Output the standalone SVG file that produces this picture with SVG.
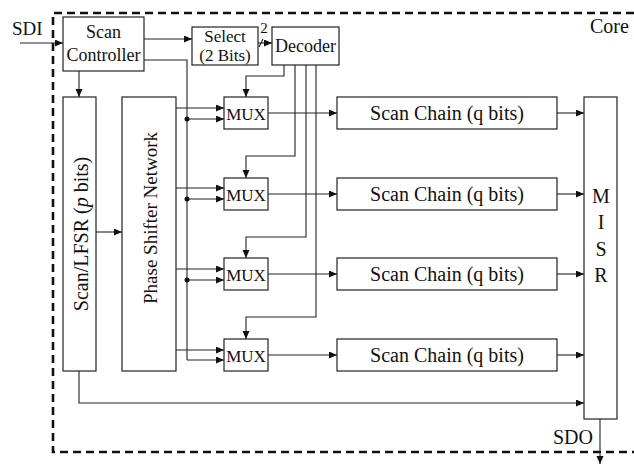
<svg xmlns="http://www.w3.org/2000/svg" width="634" height="464" viewBox="0 0 634 464" font-family="'Liberation Serif', 'Times New Roman', serif">
<style>
.box{fill:#fff;stroke:#222;stroke-width:1.2}
.ln{fill:none;stroke:#222;stroke-width:1.1}
.ar{marker-end:url(#ah)}
text{font-family:"Liberation Serif","Times New Roman",serif;fill:#111}
.c{text-anchor:middle}
</style>
<defs>
<marker id="ah" markerUnits="userSpaceOnUse" markerWidth="9" markerHeight="8" refX="8" refY="3.5" orient="auto">
<path d="M0,0 L8,3.5 L0,7 z" fill="#111"/>
</marker>
</defs>
<rect width="634" height="464" fill="#fff"/>
<path d="M634,13 H53 V452 H634" fill="none" stroke="#111" stroke-width="2.6" stroke-dasharray="8,5"/>
<text x="590" y="33" font-size="20">Core</text>
<text x="12" y="35" font-size="19">SDI</text>
<text x="553" y="444" font-size="20">SDO</text>
<g id="connectors">
<path class="ln ar" d="M20,43 H63"/>
<path class="ln ar" d="M144,39 H192"/>
<path class="ln ar" d="M258,43 H272"/>
<path class="ln" d="M259,47 L263,39"/>
<path class="ln" d="M144,60 H187 V360"/>
<path class="ln ar" d="M79,71 V97"/>
<path class="ln ar" d="M96,232 H122"/>
<path class="ln ar" d="M79,371 V403 H584"/>
<path class="ln ar" d="M284,65 V76 H246 V97"/>
<path class="ln ar" d="M295,65 V156 H246 V178"/>
<path class="ln ar" d="M306,65 V237 H246 V258"/>
<path class="ln ar" d="M316,65 V317 H246 V339"/>
<path class="ln ar" d="M176,108 H224"/>
<path class="ln ar" d="M187,119 H224"/>
<path class="ln ar" d="M176,188 H224"/>
<path class="ln ar" d="M187,199 H224"/>
<path class="ln ar" d="M176,269 H224"/>
<path class="ln ar" d="M187,280 H224"/>
<path class="ln ar" d="M176,350 H224"/>
<path class="ln ar" d="M187,360 H224"/>
<circle cx="187" cy="119" r="2.5" fill="#111"/>
<circle cx="187" cy="199" r="2.5" fill="#111"/>
<circle cx="187" cy="280" r="2.5" fill="#111"/>
<path class="ln ar" d="M268,113 H337"/>
<path class="ln ar" d="M268,194 H337"/>
<path class="ln ar" d="M268,274 H337"/>
<path class="ln ar" d="M268,355 H337"/>
<path class="ln ar" d="M557,113 H584"/>
<path class="ln ar" d="M557,194 H584"/>
<path class="ln ar" d="M557,274 H584"/>
<path class="ln ar" d="M557,355 H584"/>
<path class="ln ar" d="M600,419 V464"/>
</g>
<text x="264" y="33" font-size="15" class="c">2</text>
<g id="scan-controller">
<rect class="box" x="63" y="17" width="81" height="54"/>
<text x="103.5" y="38" font-size="18" class="c">Scan</text>
<text x="103.5" y="61" font-size="18" class="c">Controller</text>
</g>
<g id="select">
<rect class="box" x="192" y="27" width="66" height="38"/>
<text x="225" y="41.5" font-size="17" class="c">Select</text>
<text x="225" y="60.5" font-size="17" class="c">(2 Bits)</text>
</g>
<g id="decoder">
<rect class="box" x="272" y="27" width="67" height="38"/>
<text x="305.5" y="52" font-size="18" class="c">Decoder</text>
</g>
<g id="lfsr">
<rect class="box" x="63" y="97" width="33" height="274"/>
<text transform="translate(88,234) rotate(-90)" font-size="20" class="c">Scan/LFSR (<tspan font-style="italic">p</tspan> bits)</text>
</g>
<g id="phase-shifter">
<rect class="box" x="122" y="97" width="54" height="274"/>
<text transform="translate(157,218) rotate(-90)" font-size="19" class="c">Phase Shifter Network</text>
</g>
<g id="mux1"><rect class="box" x="224" y="97" width="44" height="32"/><text x="246" y="120" font-size="17" class="c">MUX</text></g>
<g id="mux2"><rect class="box" x="224" y="178" width="44" height="32"/><text x="246" y="201" font-size="17" class="c">MUX</text></g>
<g id="mux3"><rect class="box" x="224" y="258" width="44" height="32"/><text x="246" y="281" font-size="17" class="c">MUX</text></g>
<g id="mux4"><rect class="box" x="224" y="339" width="44" height="32"/><text x="246" y="362" font-size="17" class="c">MUX</text></g>
<g id="chain1"><rect class="box" x="337" y="97" width="220" height="32"/><text x="447" y="120" font-size="20" class="c">Scan Chain (q bits)</text></g>
<g id="chain2"><rect class="box" x="337" y="178" width="220" height="32"/><text x="447" y="201" font-size="20" class="c">Scan Chain (q bits)</text></g>
<g id="chain3"><rect class="box" x="337" y="258" width="220" height="32"/><text x="447" y="281" font-size="20" class="c">Scan Chain (q bits)</text></g>
<g id="chain4"><rect class="box" x="337" y="339" width="220" height="32"/><text x="447" y="362" font-size="20" class="c">Scan Chain (q bits)</text></g>
<g id="misr">
<rect class="box" x="584" y="97" width="33" height="322"/>
<text x="601" y="203" font-size="20" class="c">M</text>
<text x="601" y="229" font-size="20" class="c">I</text>
<text x="601" y="256" font-size="20" class="c">S</text>
<text x="601" y="282" font-size="20" class="c">R</text>
</g>
</svg>
